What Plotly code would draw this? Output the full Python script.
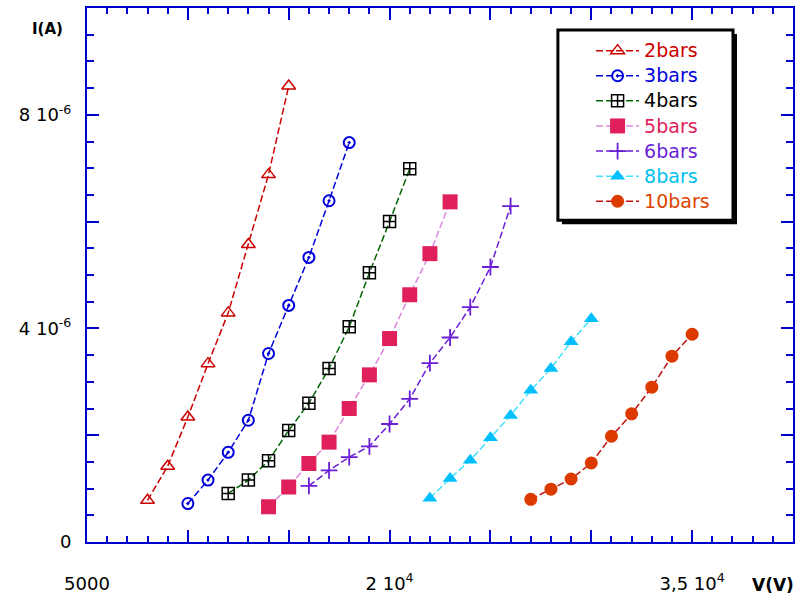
import plotly.graph_objects as go

# Current-voltage characteristics at several gas pressures
v_2bars = [8000, 9000, 10000, 11000, 12000, 13000, 14000, 15000]
i_2bars = [0.78e-6, 1.42e-6, 2.34e-6, 3.34e-6, 4.29e-6, 5.57e-6, 6.88e-6, 8.54e-6]

v_3bars = [10000, 11000, 12000, 13000, 14000, 15000, 16000, 17000, 18000]
i_3bars = [0.72e-6, 1.16e-6, 1.68e-6, 2.28e-6, 3.53e-6, 4.43e-6, 5.33e-6, 6.39e-6, 7.48e-6]

v_4bars = [12000, 13000, 14000, 15000, 16000, 17000, 18000, 19000, 20000, 21000]
i_4bars = [0.91e-6, 1.16e-6, 1.52e-6, 2.09e-6, 2.60e-6, 3.25e-6, 4.03e-6, 5.04e-6, 6.00e-6, 6.99e-6]

v_5bars = [14000, 15000, 16000, 17000, 18000, 19000, 20000, 21000, 22000, 23000]
i_5bars = [0.66e-6, 1.03e-6, 1.47e-6, 1.87e-6, 2.50e-6, 3.13e-6, 3.81e-6, 4.63e-6, 5.40e-6, 6.37e-6]

v_6bars = [16000, 17000, 18000, 19000, 20000, 21000, 22000, 23000, 24000, 25000, 26000]
i_6bars = [1.05e-6, 1.34e-6, 1.59e-6, 1.79e-6, 2.21e-6, 2.68e-6, 3.35e-6, 3.83e-6, 4.40e-6, 5.15e-6, 6.29e-6]

v_8bars = [22000, 23000, 24000, 25000, 26000, 27000, 28000, 29000, 30000]
i_8bars = [0.82e-6, 1.19e-6, 1.53e-6, 1.95e-6, 2.37e-6, 2.84e-6, 3.25e-6, 3.75e-6, 4.18e-6]

v_10bars = [27000, 28000, 29000, 30000, 31000, 32000, 33000, 34000, 35000]
i_10bars = [0.80e-6, 0.99e-6, 1.18e-6, 1.48e-6, 1.98e-6, 2.40e-6, 2.90e-6, 3.48e-6, 3.89e-6]

x_tickvals = [5000, 10000, 15000, 20000, 25000, 30000, 35000, 40000]
x_ticktext = ["5000", "", "", "2 10<sup>4</sup>", "", "", "3,5 10<sup>4</sup>", ""]
y_tickvals = [0, 2e-6, 4e-6, 6e-6, 8e-6, 10e-6]
y_ticktext = ["0", "", "4 10<sup>-6</sup>", "", "8 10<sup>-6</sup>", ""]

AXIS_BLUE = "#0000CC"
FONT = "DejaVu Sans"

series = [
    # name, x, y, text colour, line colour, marker symbol, marker colour, size, marker line width
    ("2bars", v_2bars, i_2bars, "#CC0000", "#CC0000", "triangle-up-open", "#CC0000", 12, 1.5),
    ("3bars", v_3bars, i_3bars, "#0000DD", "#0000DD", "circle-open-dot", "#0000DD", 11, 2),
    ("4bars", v_4bars, i_4bars, "#000000", "#006600", "square-cross-open", "#000000", 12, 1.5),
    ("5bars", v_5bars, i_5bars, "#E0205A", "#DD88DD", "square", "#E0205A", 15, 0),
    ("6bars", v_6bars, i_6bars, "#6A1FD6", "#6A1FD6", "cross-thin-open", "#6A1FD6", 12, 1.8),
    ("8bars", v_8bars, i_8bars, "#00BFF0", "#40E0FF", "triangle-up", "#00BFFF", 13, 0),
    ("10bars", v_10bars, i_10bars, "#DD4400", "#C01010", "circle", "#DD3A00", 13, 0),
]

fig = go.Figure()
for name, xs, ys, tcol, lcol, sym, mcol, msize, mlw in series:
    fig.add_trace(go.Scatter(
        x=xs, y=ys, mode="lines+markers",
        name=f"<span style='color:{tcol};font-size:19px'>{name}</span>",
        line=dict(color=lcol, width=1.5, dash="7px,3px"),
        marker=dict(symbol=sym, color=mcol, size=msize,
                    line=dict(color=mcol, width=mlw)),
    ))

# Legend frame with drop shadow
lx0, lx1, ly0, ly1 = 0.667, 0.915, 0.6026, 0.959
dx, dy = 4 / 706, 4 / 536
fig.add_shape(type="rect", xref="paper", yref="paper",
              x0=lx0 + dx, x1=lx1 + dx, y0=ly0 - dy, y1=ly1 - dy,
              fillcolor="black", line=dict(width=0), layer="below")
fig.add_shape(type="rect", xref="paper", yref="paper",
              x0=lx0, x1=lx1, y0=ly0, y1=ly1,
              fillcolor="white", line=dict(color="black", width=3), layer="below")

axis_common = dict(
    showline=True, linecolor=AXIS_BLUE, linewidth=2, mirror="allticks",
    ticks="inside", tickcolor=AXIS_BLUE, tickwidth=2, ticklen=12,
    showgrid=False, zeroline=False,
    tickfont=dict(family=FONT, size=18, color="black"),
)

fig.update_layout(
    width=801, height=602,
    margin=dict(l=87, r=8, t=6, b=60),
    paper_bgcolor="white", plot_bgcolor="white",
    showlegend=True,
    legend=dict(x=0.714, y=0.953, xanchor="left", yanchor="top",
                bgcolor="rgba(0,0,0,0)", borderwidth=0,
                font=dict(family=FONT, size=17), itemwidth=43,
                tracegroupgap=0),
    xaxis=dict(range=[5000, 40000], tickmode="array", tickvals=x_tickvals,
               ticktext=x_ticktext, ticklabelstandoff=24,
               minor=dict(ticks="inside", ticklen=6, tickwidth=2,
                          tickcolor=AXIS_BLUE, dtick=1000, tick0=5000, showgrid=False),
               **axis_common),
    yaxis=dict(range=[0, 10e-6], tickmode="array", tickvals=y_tickvals,
               ticktext=y_ticktext, ticklabelstandoff=10,
               minor=dict(ticks="inside", ticklen=7, tickwidth=2,
                          tickcolor=AXIS_BLUE, dtick=0.5e-6, tick0=0, showgrid=False),
               **axis_common),
    annotations=[
        dict(text="<b>I(A)</b>", xref="paper", yref="paper",
             x=(47 - 87) / 706, y=(542 - 27) / 536,
             xanchor="center", yanchor="middle",
             showarrow=False, font=dict(family=FONT, size=15, color="black")),
        dict(text="<b>V(V)</b>", xref="paper", yref="paper",
             x=(773 - 87) / 706, y=(542 - 585) / 536,
             xanchor="center", yanchor="middle",
             showarrow=False, font=dict(family=FONT, size=17, color="black")),
    ],
)

fig.write_html("out.html")
